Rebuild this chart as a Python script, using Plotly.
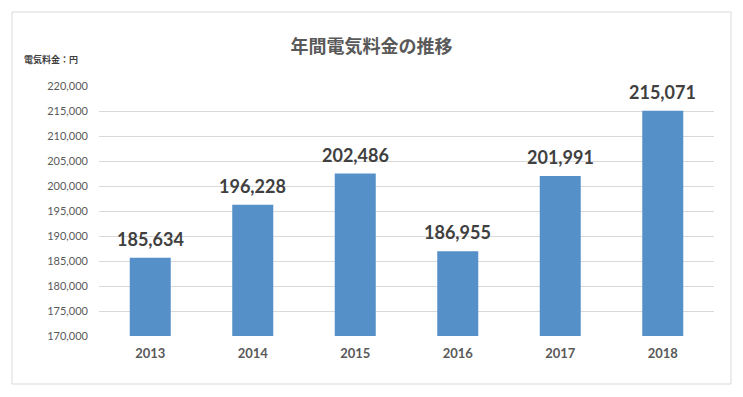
import plotly.graph_objects as go

years = ["2013", "2014", "2015", "2016", "2017", "2018"]
annual_cost = [185634, 196228, 202486, 186955, 201991, 215071]

y_min, y_max, y_step = 170000, 220000, 5000

bar_color = "#5591C8"
text_gray = "#595959"
label_gray = "#404040"
grid_gray = "#D9D9D9"

num_font = "Lato, 'Liberation Sans', sans-serif"
jp_font = "'Noto Sans CJK JP', sans-serif"

fig = go.Figure(
    go.Bar(
        x=years,
        y=annual_cost,
        marker=dict(color=bar_color, line=dict(width=0)),
        hoverinfo="x+y",
    )
)

# value labels above each bar (category index positions)
for i, v in enumerate(annual_cost):
    fig.add_annotation(
        x=i, y=v, text=f"{v:,}", showarrow=False,
        yanchor="bottom", yshift=6,
        font=dict(family=num_font, size=18, color=label_gray, weight="bold"),
    )

# unit label above the value axis
fig.add_annotation(
    xref="paper", yref="paper", x=-0.125, y=1.104,
    xanchor="left", yanchor="middle", showarrow=False,
    text="電気料金：円",
    font=dict(family=jp_font, size=9, color=label_gray, weight="bold"),
)

# chart border
fig.add_shape(
    type="rect", xref="paper", yref="paper",
    x0=-0.1415, x1=1.0276, y0=-0.192, y1=1.296,
    line=dict(color=grid_gray, width=1), fillcolor="rgba(0,0,0,0)",
    layer="below",
)

fig.update_layout(
    width=743, height=397,
    margin=dict(l=99, r=29, t=86, b=61),
    paper_bgcolor="white", plot_bgcolor="white",
    bargap=0.6,
    showlegend=False,
    title=dict(
        text="年間電気料金の推移",
        x=0.5, xref="container", xanchor="center",
        y=1 - 47 / 397, yref="container", yanchor="middle",
        font=dict(family=jp_font, size=18, color=text_gray, weight="bold"),
    ),
)

fig.update_yaxes(
    range=[y_min, y_max], dtick=y_step, tick0=y_min,
    tickformat=",", showgrid=True, gridcolor=grid_gray, gridwidth=1,
    zeroline=False, showline=False, ticks="",
    ticklabelstandoff=10,
    tickfont=dict(family=num_font, size=11, color=text_gray),
)
fig.update_xaxes(
    type="category", range=[-0.5, len(years) - 0.5],
    showgrid=False, showline=False, ticks="",
    ticklabelstandoff=8,
    tickfont=dict(family=num_font, size=13, color=text_gray, weight="bold"),
)

fig.write_html("out.html")
